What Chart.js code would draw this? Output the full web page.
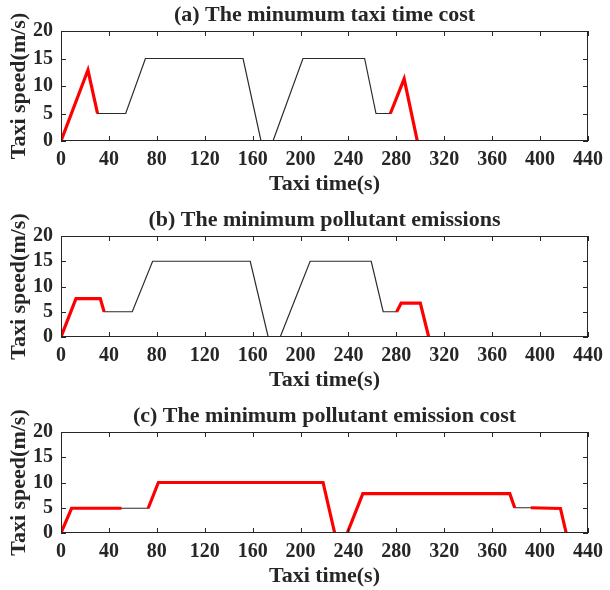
<!DOCTYPE html>
<html>
<head>
<meta charset="utf-8">
<script src="https://cdn.jsdelivr.net/npm/chart.js@4.4.0/dist/chart.umd.min.js"></script>
<style>
  body { margin: 0; background: #fff; }
  .panel { position: absolute; left: 0; width: 610px; height: 198px; }
</style>
</head>
<body>
<div class="panel" style="top:0px"><canvas id="chartA" width="610" height="198"></canvas></div>
<div class="panel" style="top:196px"><canvas id="chartB" width="610" height="198"></canvas></div>
<div class="panel" style="top:392px"><canvas id="chartC" width="610" height="198"></canvas></div>
<script>
// (a) minimum taxi time cost
const timeA = [0, 22.5, 30.5, 54, 70.5, 152, 167, 177, 202, 253.5, 263, 275, 286.5, 297.5];
const speedA = [0, 12.9, 5, 5, 15, 15, 0, 0, 15, 15, 5, 5, 11.3, 0];
const redTimeA = [0, 22.5, 30.5, null, 275, 286.5, 297.5];
const redSpeedA = [0, 12.9, 5, null, 5, 11.3, 0];

// (b) minimum pollutant emissions
const timeB = [0, 12.5, 32.8, 36, 59.5, 76.5, 158, 173, 183, 208, 259, 269, 280.3, 284, 300, 307];
const speedB = [0, 7.6, 7.6, 5, 5, 15, 15, 0, 0, 15, 15, 5, 5, 6.7, 6.7, 0];
const redTimeB = [0, 12.5, 32.8, 36, null, 280.3, 284, 300, 307];
const redSpeedB = [0, 7.6, 7.6, 5, null, 5, 6.7, 6.7, 0];

// (c) minimum pollutant emission cost
const timeC = [0, 8.8, 50.5, 72.8, 81.3, 218.8, 228.5, 239, 252, 374.7, 378.8, 392.2, 417, 421.8];
const speedC = [0, 4.9, 4.9, 4.9, 10, 10, 0, 0, 7.8, 7.8, 5, 5, 4.85, 0];
const redTimeC = [0, 8.8, 50.5, null, 72.8, 81.3, 218.8, 228.5, null, 239, 252, 374.7, 378.8, null, 392.2, 417, 421.8];
const redSpeedC = [0, 4.9, 4.9, null, 4.9, 10, 10, 0, null, 0, 7.8, 7.8, 5, null, 5, 4.85, 0];

const xTicks = [0, 40, 80, 120, 160, 200, 240, 280, 320, 360, 400, 440];
const yTicks = [0, 5, 10, 15, 20];

const textColor = '#262626';
const fontFamily = "'Liberation Serif', 'Times New Roman', serif";

function toPoints(xs, ys) {
    return xs.map((x, i) => ({ x: x, y: ys[i] }));
}

// MATLAB style box with inward ticks on all four sides, plus a title centred on the plot
const boxPlugin = {
    id: 'boxPlugin',
    afterDraw(chart, args, opts) {
        const { ctx, chartArea: a, scales } = chart;
        const len = 5;
        ctx.save();
        ctx.strokeStyle = textColor;
        ctx.lineWidth = 1;
        ctx.strokeRect(a.left + 0.5, a.top + 0.5, a.right - a.left - 1, a.bottom - a.top - 1);
        ctx.beginPath();
        scales.x.ticks.forEach(t => {
            const px = Math.round(scales.x.getPixelForValue(t.value)) + 0.5;
            ctx.moveTo(px, a.bottom); ctx.lineTo(px, a.bottom - len);
            ctx.moveTo(px, a.top); ctx.lineTo(px, a.top + len);
        });
        scales.y.ticks.forEach(t => {
            const py = Math.round(scales.y.getPixelForValue(t.value)) + 0.5;
            ctx.moveTo(a.left, py); ctx.lineTo(a.left + len, py);
            ctx.moveTo(a.right, py); ctx.lineTo(a.right - len, py);
        });
        ctx.stroke();

        ctx.fillStyle = textColor;
        ctx.font = 'bold 22px ' + fontFamily;
        ctx.textAlign = 'center';
        ctx.textBaseline = 'middle';
        ctx.fillText(opts.text, (a.left + a.right) / 2, a.top - 16);
        ctx.restore();
    }
};

function makeChart(id, title, topPad, t, v, redT, redV) {
    const ctx = document.getElementById(id).getContext('2d');
    return new Chart(ctx, {
        type: 'line',
        data: {
            datasets: [{
                label: 'optimised',
                data: toPoints(redT, redV),
                borderColor: '#ff0000',
                borderWidth: 3.2,
                pointRadius: 0,
                spanGaps: false,
                tension: 0
            }, {
                label: 'speed',
                data: toPoints(t, v),
                borderColor: '#2b2b2b',
                borderWidth: 1.2,
                pointRadius: 0,
                tension: 0
            }]
        },
        options: {
            responsive: false,
            animation: false,
            devicePixelRatio: 1,
            layout: { padding: { top: topPad, right: 16, left: 0, bottom: 0 } },
            plugins: {
                legend: { display: false },
                tooltip: { enabled: false },
                boxPlugin: { text: title }
            },
            scales: {
                x: {
                    type: 'linear',
                    min: 0,
                    max: 440,
                    afterBuildTicks: s => { s.ticks = xTicks.map(v => ({ value: v })); },
                    grid: { display: false, drawTicks: false },
                    border: { display: false },
                    ticks: {
                        color: textColor,
                        padding: 7,
                        maxRotation: 0,
                        autoSkip: false,
                        font: { family: fontFamily, size: 20, weight: 'bold' }
                    },
                    title: {
                        display: true,
                        text: 'Taxi time(s)',
                        color: textColor,
                        padding: { top: 0, bottom: 0 },
                        font: { family: fontFamily, size: 22, weight: 'bold' }
                    },
                    afterFit: s => { s.height = 57; }
                },
                y: {
                    min: 0,
                    max: 20,
                    afterBuildTicks: s => { s.ticks = yTicks.map(v => ({ value: v })); },
                    grid: { display: false, drawTicks: false },
                    border: { display: false },
                    ticks: {
                        color: textColor,
                        padding: 8,
                        autoSkip: false,
                        font: { family: fontFamily, size: 20, weight: 'bold' }
                    },
                    title: {
                        display: true,
                        text: 'Taxi speed(m/s)',
                        color: textColor,
                        padding: { top: 6, bottom: 0 },
                        font: { family: fontFamily, size: 22, weight: 'bold' }
                    },
                    afterFit: s => { s.width = 61; }
                }
            }
        },
        plugins: [boxPlugin]
    });
}

makeChart('chartA', '(a) The minumum taxi time cost', 31, timeA, speedA, redTimeA, redSpeedA);
makeChart('chartB', '(b) The minimum pollutant emissions', 40, timeB, speedB, redTimeB, redSpeedB);
makeChart('chartC', '(c) The minimum pollutant emission cost', 40, timeC, speedC, redTimeC, redSpeedC);
</script>
</body>
</html>
